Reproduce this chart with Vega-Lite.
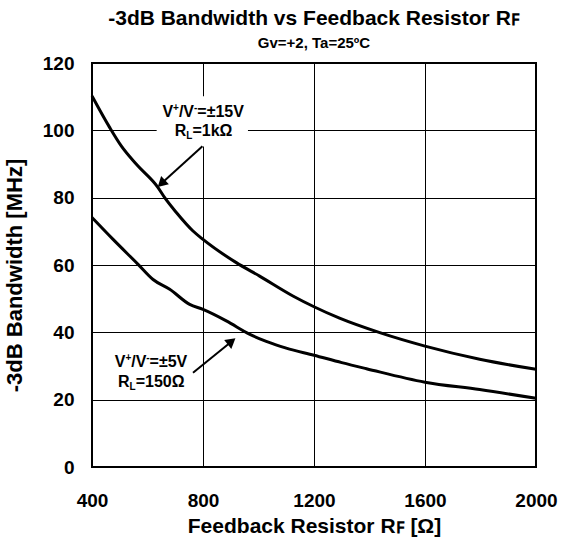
{
  "$schema": "https://vega.github.io/schema/vega-lite/v6.json",
  "width": 444,
  "height": 404,
  "autosize": {"type": "none"},
  "padding": {"left": 92, "top": 63, "right": 26, "bottom": 70},
  "background": "white",
  "title": {
    "text": "-3dB Bandwidth vs Feedback Resistor Rꜰ",
    "subtitle": "Gv=+2, Ta=25ºC",
    "font": "Liberation Sans",
    "fontSize": 21,
    "fontWeight": "bold",
    "color": "black",
    "subtitleFont": "Liberation Sans",
    "subtitleFontSize": 15,
    "subtitleFontWeight": "bold",
    "subtitleColor": "black",
    "subtitlePadding": 7,
    "anchor": "middle",
    "frame": "group",
    "offset": 3
  },
  "config": {
    "view": {"stroke": "black", "strokeWidth": 2},
    "axis": {
      "labelFont": "Liberation Sans",
      "labelFontSize": 19,
      "labelFontWeight": "bold",
      "labelColor": "black",
      "titleFont": "Liberation Sans",
      "titleFontSize": 21,
      "titleFontWeight": "bold",
      "titleColor": "black",
      "ticks": false,
      "domain": false,
      "grid": true,
      "gridColor": "black",
      "gridWidth": 1,
      "gridOpacity": 1
    },
    "text": {"font": "Liberation Sans", "fontWeight": "bold", "color": "black"}
  },
  "datasets": {
    "curves": [
      {"rf": 400, "bw": 110.2, "cond": "15V"},
      {"rf": 464, "bw": 100.8, "cond": "15V"},
      {"rf": 506, "bw": 95.3, "cond": "15V"},
      {"rf": 560, "bw": 89.9, "cond": "15V"},
      {"rf": 638, "bw": 83.0, "cond": "15V"},
      {"rf": 662, "bw": 80.0, "cond": "15V"},
      {"rf": 704, "bw": 75.6, "cond": "15V"},
      {"rf": 764, "bw": 70.1, "cond": "15V"},
      {"rf": 800, "bw": 67.6, "cond": "15V"},
      {"rf": 920, "bw": 60.7, "cond": "15V"},
      {"rf": 1004, "bw": 56.7, "cond": "15V"},
      {"rf": 1124, "bw": 50.8, "cond": "15V"},
      {"rf": 1200, "bw": 47.6, "cond": "15V"},
      {"rf": 1292, "bw": 44.2, "cond": "15V"},
      {"rf": 1437, "bw": 39.9, "cond": "15V"},
      {"rf": 1600, "bw": 35.9, "cond": "15V"},
      {"rf": 1797, "bw": 32.0, "cond": "15V"},
      {"rf": 2000, "bw": 29.0, "cond": "15V"},
      {"rf": 400, "bw": 74.1, "cond": "5V"},
      {"rf": 476, "bw": 67.6, "cond": "5V"},
      {"rf": 566, "bw": 60.2, "cond": "5V"},
      {"rf": 620, "bw": 55.7, "cond": "5V"},
      {"rf": 680, "bw": 52.8, "cond": "5V"},
      {"rf": 752, "bw": 48.3, "cond": "5V"},
      {"rf": 800, "bw": 46.8, "cond": "5V"},
      {"rf": 884, "bw": 43.4, "cond": "5V"},
      {"rf": 969, "bw": 39.4, "cond": "5V"},
      {"rf": 1028, "bw": 37.3, "cond": "5V"},
      {"rf": 1100, "bw": 35.3, "cond": "5V"},
      {"rf": 1200, "bw": 33.2, "cond": "5V"},
      {"rf": 1300, "bw": 31.0, "cond": "5V"},
      {"rf": 1389, "bw": 29.2, "cond": "5V"},
      {"rf": 1600, "bw": 25.2, "cond": "5V"},
      {"rf": 1797, "bw": 23.0, "cond": "5V"},
      {"rf": 2000, "bw": 20.4, "cond": "5V"}
    ],
    "bg": [{"x1": 633, "x2": 962, "y1": 95.2, "y2": 110.1}],
    "line1": [
      {"x": 653.7, "y": 104.1, "rest": "=±15V"},
      {"x": 481.8, "y": 29.8, "rest": "=±5V"}
    ],
    "line2": [
      {"x": 698, "y": 98.3, "rest": "=1kΩ"},
      {"x": 493.7, "y": 23.9, "rest": "=150Ω"}
    ],
    "arrows": [
      {"x": 798, "y": 95.3, "x2": 650, "y2": 84.2},
      {"x": 764, "y": 28.0, "x2": 903, "y2": 37.3}
    ],
    "head1": [{"x": 650, "y": 84.2}],
    "head2": [{"x": 903, "y": 37.3}]
  },
  "layer": [
    {
      "data": {"name": "curves"},
      "mark": {"type": "line", "color": "black", "strokeWidth": 3, "interpolate": "monotone"},
      "encoding": {
        "x": {
          "field": "rf", "type": "quantitative",
          "scale": {"domain": [400, 2000], "nice": false, "zero": false},
          "axis": {"values": [400, 800, 1200, 1600, 2000], "format": "d", "title": "Feedback Resistor Rꜰ [Ω]", "labelPadding": 24, "titlePadding": 5, "labelFlush": false, "labelOverlap": false}
        },
        "y": {
          "field": "bw", "type": "quantitative",
          "scale": {"domain": [0, 120], "nice": false},
          "axis": {"values": [0, 20, 40, 60, 80, 100, 120], "format": "d", "title": "-3dB Bandwidth [MHz]", "labelPadding": 18, "titlePadding": 16, "titleFontSize": 22, "titleY": 212}
        },
        "detail": {"field": "cond"}
      }
    },
    {
      "data": {"name": "bg"},
      "mark": {"type": "rect", "fill": "white"},
      "encoding": {
        "x": {"field": "x1", "type": "quantitative"},
        "x2": {"field": "x2"},
        "y": {"field": "y1", "type": "quantitative"},
        "y2": {"field": "y2"}
      }
    },
    {
      "data": {"name": "arrows"},
      "mark": {"type": "rule", "color": "black", "strokeWidth": 2},
      "encoding": {
        "x": {"field": "x", "type": "quantitative"},
        "y": {"field": "y", "type": "quantitative"},
        "x2": {"field": "x2"},
        "y2": {"field": "y2"}
      }
    },
    {
      "data": {"name": "head1"},
      "mark": {"type": "point", "shape": "triangle-up", "filled": true, "color": "black", "opacity": 1, "size": 130, "angle": 227},
      "encoding": {
        "x": {"field": "x", "type": "quantitative"},
        "y": {"field": "y", "type": "quantitative"}
      }
    },
    {
      "data": {"name": "head2"},
      "mark": {"type": "point", "shape": "triangle-up", "filled": true, "color": "black", "opacity": 1, "size": 130, "angle": 51},
      "encoding": {
        "x": {"field": "x", "type": "quantitative"},
        "y": {"field": "y", "type": "quantitative"}
      }
    },
    {
      "data": {"name": "line1"},
      "mark": {"type": "text", "text": "V", "align": "left", "baseline": "alphabetic", "fontSize": 16},
      "encoding": {"x": {"field": "x", "type": "quantitative"}, "y": {"field": "y", "type": "quantitative"}}
    },
    {
      "data": {"name": "line1"},
      "mark": {"type": "text", "text": "+", "align": "left", "baseline": "alphabetic", "fontSize": 10, "dx": 10.7, "dy": -6},
      "encoding": {"x": {"field": "x", "type": "quantitative"}, "y": {"field": "y", "type": "quantitative"}}
    },
    {
      "data": {"name": "line1"},
      "mark": {"type": "text", "text": "/V", "align": "left", "baseline": "alphabetic", "fontSize": 16, "dx": 16.5},
      "encoding": {"x": {"field": "x", "type": "quantitative"}, "y": {"field": "y", "type": "quantitative"}}
    },
    {
      "data": {"name": "line1"},
      "mark": {"type": "text", "text": "-", "align": "left", "baseline": "alphabetic", "fontSize": 10, "dx": 31.6, "dy": -6},
      "encoding": {"x": {"field": "x", "type": "quantitative"}, "y": {"field": "y", "type": "quantitative"}}
    },
    {
      "data": {"name": "line1"},
      "mark": {"type": "text", "align": "left", "baseline": "alphabetic", "fontSize": 16, "dx": 34.9},
      "encoding": {"x": {"field": "x", "type": "quantitative"}, "y": {"field": "y", "type": "quantitative"}, "text": {"field": "rest"}}
    },
    {
      "data": {"name": "line2"},
      "mark": {"type": "text", "text": "R", "align": "left", "baseline": "alphabetic", "fontSize": 16},
      "encoding": {"x": {"field": "x", "type": "quantitative"}, "y": {"field": "y", "type": "quantitative"}}
    },
    {
      "data": {"name": "line2"},
      "mark": {"type": "text", "text": "L", "align": "left", "baseline": "alphabetic", "fontSize": 10, "dx": 11.6, "dy": 3},
      "encoding": {"x": {"field": "x", "type": "quantitative"}, "y": {"field": "y", "type": "quantitative"}}
    },
    {
      "data": {"name": "line2"},
      "mark": {"type": "text", "align": "left", "baseline": "alphabetic", "fontSize": 16, "dx": 17.7},
      "encoding": {"x": {"field": "x", "type": "quantitative"}, "y": {"field": "y", "type": "quantitative"}, "text": {"field": "rest"}}
    }
  ]
}
